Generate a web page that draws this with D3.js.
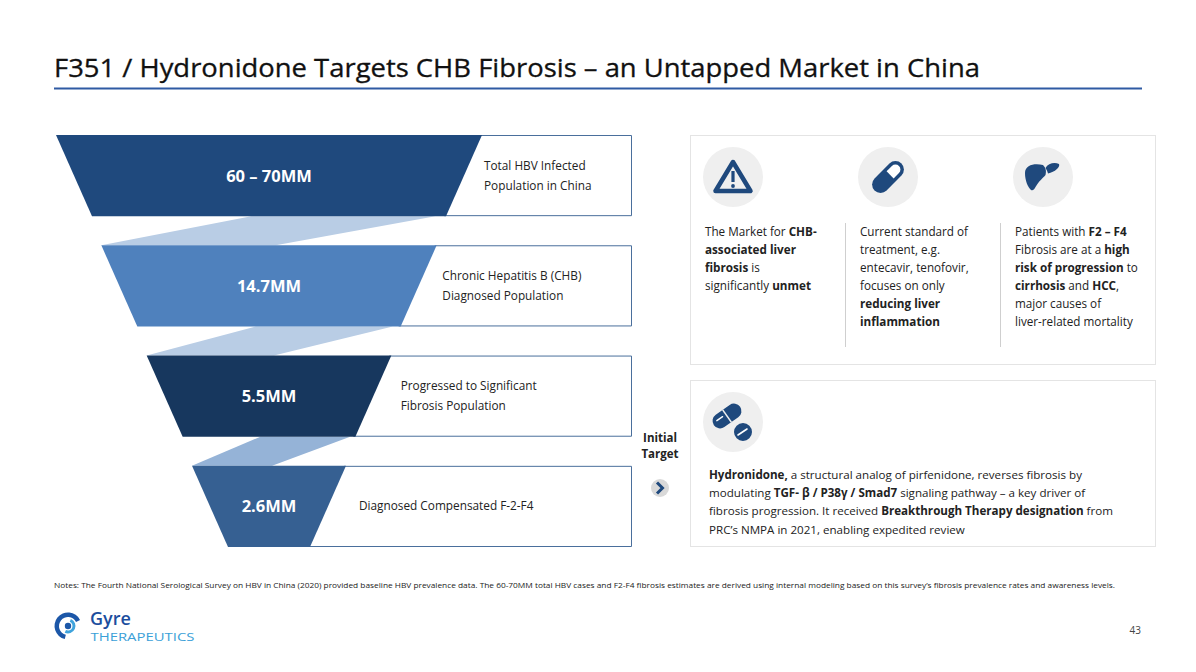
<!DOCTYPE html>
<html>
<head>
<meta charset="utf-8">
<script src="https://cdn.jsdelivr.net/npm/d3@7"></script>
<style>
  body { margin: 0; background: #fff; }
  svg { display: block; font-family: "Open Sans", sans-serif; }
</style>
</head>
<body>
<div id="chart"></div>
<script>
// funnel data
const stageValues = ["60 – 70MM", "14.7MM", "5.5MM", "2.6MM"];
const stageLabels = [
    ["Total HBV Infected", "Population in China"],
    ["Chronic Hepatitis B (CHB)", "Diagnosed Population"],
    ["Progressed to Significant", "Fibrosis Population"],
    ["Diagnosed Compensated F-2-F4"]
];

// right side panel texts (**bold** runs)
const pointTexts = [
    ["The Market for **CHB-**", "**associated liver**", "**fibrosis** is", "significantly **unmet**"],
    ["Current standard of", "treatment, e.g.", "entecavir, tenofovir,", "focuses on only", "**reducing liver**", "**inflammation**"],
    ["Patients with **F2 – F4**", "Fibrosis are at a **high**", "**risk of progression** to", "**cirrhosis** and **HCC**,", "major causes of", "liver-related mortality"]
];
const drugText = [
    "**Hydronidone,** a structural analog of pirfenidone, reverses fibrosis by",
    "modulating **TGF- β / P38γ / Smad7** signaling pathway – a key driver of",
    "fibrosis progression. It received **Breakthrough Therapy designation** from",
    "PRC’s NMPA in 2021, enabling expedited review"
];
const titleText = "F351 / Hydronidone Targets CHB Fibrosis – an Untapped Market in China";
const noteText = "Notes: The Fourth National Serological Survey on HBV in China (2020) provided baseline HBV prevalence data. The 60-70MM total HBV cases and F2-F4 fibrosis estimates are derived using internal modeling based on this survey’s fibrosis prevalence rates and awareness levels.";
const targetLabel = ["Initial", "Target"];
const pageNumber = "43";

// styles
const stageFill = d3.scaleOrdinal().domain(d3.range(4)).range(["#1f497d", "#4f81bd", "#17375e", "#366092"]);
const linkFill = d3.scaleOrdinal().domain(d3.range(3)).range(["#b9cde5", "#b9cde5", "#95b3d7"]);
const navy = "#1f497d";

const width = 1196, height = 672;
const svg = d3.select('#chart').append('svg')
    .attr('width', width)
    .attr('height', height);

// title
svg.append('text')
    .attr('x', 54).attr('y', 77)
    .attr('font-size', 25)
    .attr('fill', '#111')
    .attr('stroke', '#111')
    .attr('stroke-width', 0.3)
    .attr('textLength', 926)
    .attr('lengthAdjust', 'spacingAndGlyphs')
    .text(titleText);
svg.append('line')
    .attr('x1', 54).attr('x2', 1142)
    .attr('y1', 88.5).attr('y2', 88.5)
    .attr('stroke', '#2f5aa3')
    .attr('stroke-width', 2);

// ---- funnel ----
const yScale = d3.scaleBand()
    .domain(d3.range(stageValues.length))
    .range([135, 547])
    .paddingInner(0.264);
const halfScale = d3.scaleLinear()
    .domain([0, stageValues.length - 1])
    .range([213, 77]);
const labelPad = d3.scaleLinear()
    .domain([0, stageValues.length - 1])
    .range([2, 13]);
const cx = 269, inset = 36, boxRight = 631;
const rh = yScale.bandwidth();

const geo = d3.range(stageValues.length).map(i => {
    const top = yScale(i), bottom = top + rh;
    const ht = halfScale(i), hb = ht - inset;
    return { i, top, bottom, tl: cx - ht, tr: cx + ht, bl: cx - hb, br: cx + hb };
});

const funnel = svg.append('g');

// connectors
funnel.selectAll('.link')
    .data(geo.slice(1))
    .enter().append('path')
    .attr('class', 'link')
    .attr('fill', (d, k) => linkFill(k))
    .attr('d', (d, k) => {
        const p = geo[k];
        const w = p.br - p.bl, wt = d.tr - d.tl;
        return `M${p.bl + w * 0.45},${p.bottom} L${p.bl + w * 0.97},${p.bottom} L${d.tl + wt * 0.52},${d.top} L${d.tl},${d.top} Z`;
    });

// label boxes
funnel.selectAll('.box')
    .data(geo)
    .enter().append('path')
    .attr('class', 'box')
    .attr('fill', '#fff')
    .attr('stroke', '#4a6f9c')
    .attr('stroke-width', 1)
    .attr('d', d => `M${d.tr - 2},${d.top + 0.5} L${boxRight + 0.5},${d.top + 0.5} L${boxRight + 0.5},${d.bottom - 0.5} L${d.br - 2},${d.bottom - 0.5}`);

// trapezoids
funnel.selectAll('.stage')
    .data(geo)
    .enter().append('path')
    .attr('class', 'stage')
    .attr('fill', d => stageFill(d.i))
    .attr('d', d => `M${d.tl},${d.top} L${d.tr},${d.top} L${d.br},${d.bottom} L${d.bl},${d.bottom} Z`);

funnel.selectAll('.value')
    .data(geo)
    .enter().append('text')
    .attr('class', 'value')
    .attr('x', cx)
    .attr('y', d => d.top + rh / 2 + 6)
    .attr('text-anchor', 'middle')
    .attr('fill', '#fff')
    .attr('font-size', 16.5)
    .attr('font-weight', 700)
    .text(d => stageValues[d.i]);

funnel.selectAll('.label')
    .data(geo)
    .enter().append('text')
    .attr('class', 'label')
    .attr('font-size', 11.8)
    .attr('fill', '#222')
    .each(function (d) {
        const lines = stageLabels[d.i];
        const x = d.tr + labelPad(d.i);
        const y0 = d.top + rh / 2 + 4 - (lines.length - 1) * 10;
        d3.select(this).selectAll('tspan')
            .data(lines)
            .enter().append('tspan')
            .attr('x', x)
            .attr('y', (t, j) => y0 + j * 20)
            .text(t => t);
    });

// ---- helper for rich text ----
function richLine(sel, str, x, y) {
    const t = sel.append('text').attr('x', x).attr('y', y);
    str.split('**').forEach((part, j) => {
        if (!part) return;
        t.append('tspan')
            .attr('font-weight', j % 2 ? 700 : 400)
            .text(part);
    });
    return t;
}

// ---- right panel 1 ----
const panel1 = svg.append('g');
panel1.append('rect')
    .attr('x', 690.5).attr('y', 135.5)
    .attr('width', 465).attr('height', 229)
    .attr('fill', '#fff')
    .attr('stroke', '#e4e4e4');

const colX = d3.scaleLinear().domain([0, 1]).range([705, 860]);
const iconX = d3.scaleLinear().domain([0, 1]).range([733, 888]);

pointTexts.forEach((lines, c) => {
    const g = panel1.append('g').attr('font-size', 11.7).attr('fill', '#222');
    lines.forEach((s, j) => richLine(g, s, colX(c), 236 + j * 18));
    panel1.append('circle')
        .attr('cx', iconX(c)).attr('cy', 177).attr('r', 30)
        .attr('fill', '#efefef');
});
[1, 2].forEach(c => {
    panel1.append('line')
        .attr('x1', colX(c) - 14.5).attr('x2', colX(c) - 14.5)
        .attr('y1', 223).attr('y2', 347)
        .attr('stroke', '#cfcfcf');
});

// warning icon
const warn = panel1.append('g').attr('transform', `translate(${iconX(0)},177)`);
warn.append('path')
    .attr('d', 'M0,-15 L17.5,14 L-17.5,14 Z')
    .attr('fill', 'none').attr('stroke', navy)
    .attr('stroke-width', 4.5).attr('stroke-linejoin', 'round');
warn.append('rect').attr('x', -1.6).attr('y', -6).attr('width', 3.2).attr('height', 11).attr('fill', navy);
warn.append('circle').attr('cx', 0).attr('cy', 9).attr('r', 1.9).attr('fill', navy);

// pill icon
const pill = panel1.append('g').attr('transform', `translate(${iconX(1)},177) rotate(-45)`);
pill.append('rect')
    .attr('x', -19).attr('y', -8.5).attr('width', 38).attr('height', 17).attr('rx', 8.5)
    .attr('fill', navy);
pill.append('path')
    .attr('d', 'M3,-5 L10.5,-5 A5 5 0 0 1 10.5 5 L3 5 Z')
    .attr('fill', '#fff');

// liver icon
const liver = panel1.append('g')
    .attr('transform', `translate(${iconX(2)},177)`)
    .attr('fill', navy);
liver.append('path')
    .attr('d', 'M0,-12 C-7,-14 -18,-13 -18,-4 C-18,4 -15,10 -12,13 C-10,14 -8.5,12 -7.5,10 C-4,4 0,1 2.5,-2 C3.5,-6 3,-9 0,-12 Z');
liver.append('path')
    .attr('d', 'M2.5,-9 C5,-14 12,-15 16,-13 C17.5,-10 12,-5 5,-3.5 C4.5,-5.5 3.5,-7.5 2.5,-9 Z');

// ---- right panel 2 ----
const panel2 = svg.append('g');
panel2.append('rect')
    .attr('x', 690.5).attr('y', 380.5)
    .attr('width', 465).attr('height', 166)
    .attr('fill', '#fff')
    .attr('stroke', '#e4e4e4');
panel2.append('circle')
    .attr('cx', 733).attr('cy', 422).attr('r', 30)
    .attr('fill', '#efefef');
const tabs = panel2.append('g').attr('transform', 'translate(733,422)');
const cap = tabs.append('g').attr('transform', 'translate(-6,-6) rotate(-35)');
cap.append('rect')
    .attr('x', -16).attr('y', -7.5).attr('width', 32).attr('height', 15).attr('rx', 7.5)
    .attr('fill', navy);
cap.append('line').attr('x1', 0).attr('x2', 0).attr('y1', -7.5).attr('y2', 7.5)
    .attr('stroke', '#efefef').attr('stroke-width', 1.6);
cap.append('line').attr('x1', -11).attr('x2', -4).attr('y1', -2).attr('y2', -2)
    .attr('stroke', '#fff').attr('stroke-width', 1.4).attr('stroke-linecap', 'round');
tabs.append('circle').attr('cx', 10).attr('cy', 10).attr('r', 10)
    .attr('fill', navy).attr('stroke', '#efefef').attr('stroke-width', 2);
tabs.append('line').attr('x1', 5).attr('y1', 13).attr('x2', 14).attr('y2', 7)
    .attr('stroke', '#fff').attr('stroke-width', 1.6).attr('stroke-linecap', 'round');

const dg = panel2.append('g').attr('font-size', 11.6).attr('fill', '#222');
drugText.forEach((s, j) => richLine(dg, s, 709, 479 + j * 18.2));

// initial target marker
svg.append('g')
    .attr('font-size', 11.5).attr('font-weight', 700).attr('fill', '#222')
    .attr('text-anchor', 'middle')
    .selectAll('text')
    .data(targetLabel)
    .enter().append('text')
    .attr('x', 660)
    .attr('y', (d, j) => 442 + j * 16)
    .text(d => d);
svg.append('circle').attr('cx', 660).attr('cy', 488).attr('r', 9).attr('fill', '#d9d9d9');
svg.append('path')
    .attr('d', 'M657,482.5 L662.5,488 L657,493.5')
    .attr('fill', 'none').attr('stroke', navy)
    .attr('stroke-width', 3).attr('stroke-linejoin', 'miter');

// notes
svg.append('text')
    .attr('x', 54).attr('y', 588)
    .attr('font-size', 7.4)
    .attr('fill', '#222')
    .attr('textLength', 1061)
    .attr('lengthAdjust', 'spacingAndGlyphs')
    .text(noteText);

// page number
svg.append('text')
    .attr('x', 1141).attr('y', 634)
    .attr('text-anchor', 'end')
    .attr('font-size', 10)
    .attr('fill', '#444')
    .text(pageNumber);

// logo
const logo = svg.append('g').attr('transform', 'translate(68,626)');
const arc = d3.arc();
logo.append('path')
    .attr('d', arc({ innerRadius: 9, outerRadius: 13.5, startAngle: -2.9, endAngle: 1.1 }))
    .attr('fill', '#1c57a8');
logo.append('path')
    .attr('d', arc({ innerRadius: 4.5, outerRadius: 7.5, startAngle: 0.4, endAngle: 3.6 }))
    .attr('fill', '#3fa3dc');
logo.append('circle').attr('r', 3.2).attr('fill', '#1c57a8');
svg.append('text')
    .attr('x', 90).attr('y', 625)
    .attr('font-size', 18).attr('font-weight', 600)
    .attr('fill', '#1c4e9e')
    .text('Gyre');
svg.append('text')
    .attr('x', 90.5).attr('y', 641)
    .attr('font-size', 11)
    .attr('fill', '#3aa0d8')
    .attr('textLength', 104)
    .attr('lengthAdjust', 'spacingAndGlyphs')
    .text('THERAPEUTICS');
</script>
</body>
</html>
